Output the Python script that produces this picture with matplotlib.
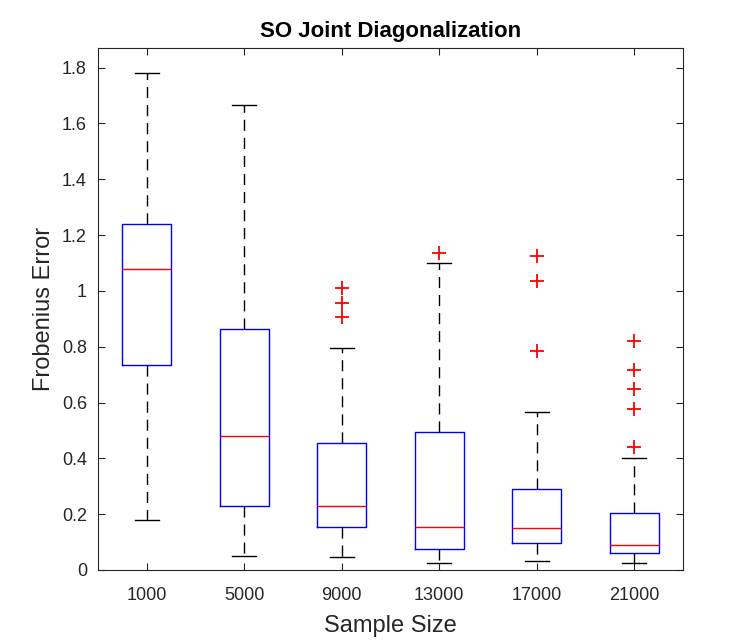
import matplotlib
matplotlib.use('Agg')
import matplotlib.pyplot as plt

plt.rcParams['font.family'] = ['Liberation Sans', 'DejaVu Sans']

sample_sizes = ['1000', '5000', '9000', '13000', '17000', '21000']
whisker_low = [0.18, 0.05, 0.048, 0.025, 0.033, 0.025]
q1 = [0.735, 0.23, 0.155, 0.077, 0.097, 0.062]
medians = [1.08, 0.48, 0.23, 0.155, 0.15, 0.09]
q3 = [1.24, 0.865, 0.455, 0.495, 0.29, 0.205]
whisker_high = [1.78, 1.665, 0.795, 1.10, 0.565, 0.40]
outliers = [[], [], [1.01, 0.955, 0.905], [1.135], [1.125, 1.035, 0.785],
            [0.82, 0.715, 0.648, 0.575, 0.44]]

stats = []
for i in range(len(sample_sizes)):
    stats.append({'whislo': whisker_low[i], 'q1': q1[i], 'med': medians[i],
                  'q3': q3[i], 'whishi': whisker_high[i], 'fliers': outliers[i],
                  'label': sample_sizes[i]})

fig = plt.figure(figsize=(7.55, 6.4), dpi=100)
ax = fig.add_axes([98/755, 70/640, 585/755, 522/640])

ax.bxp(stats, widths=0.5, capwidths=0.25,
       boxprops=dict(color='blue', linewidth=1),
       medianprops=dict(color='red', linewidth=1),
       whiskerprops=dict(color='black', linewidth=1, linestyle=(0, (8, 5))),
       capprops=dict(color='black', linewidth=1),
       flierprops=dict(marker='+', markeredgecolor='red', markersize=10,
                       markeredgewidth=1.3, linestyle='none'))

ax.set_xlim(0.5, 6.5)
ax.set_ylim(0, 1.87)
ax.set_yticks([0, 0.2, 0.4, 0.6, 0.8, 1, 1.2, 1.4, 1.6, 1.8])
ax.set_yticklabels(['0', '0.2', '0.4', '0.6', '0.8', '1', '1.2', '1.4', '1.6', '1.8'])
ax.tick_params(direction='in', top=True, right=True, labelsize=13,
               colors='#262626', length=5)
ax.tick_params(axis='x', pad=12)
ax.tick_params(axis='y', pad=8)
for s in ax.spines.values():
    s.set_color('#262626')

ax.set_title('SO Joint Diagonalization', fontsize=16, fontweight='bold', pad=8)
ax.set_xlabel('Sample Size', fontsize=17, color='#262626', labelpad=8)
ax.set_ylabel('Frobenius Error', fontsize=17, color='#262626', labelpad=5)

fig.savefig('out.png', dpi=100)
